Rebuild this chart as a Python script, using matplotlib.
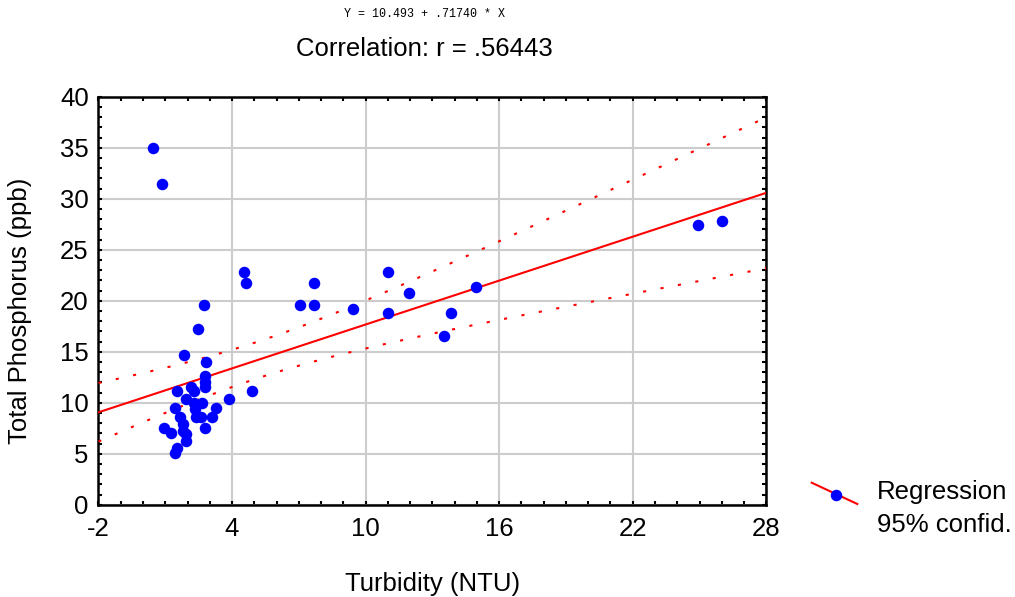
import matplotlib
matplotlib.use("Agg")
import matplotlib.pyplot as plt
from matplotlib.lines import Line2D
import numpy as np

# Turbidity (NTU) vs total phosphorus (ppb)
turbidity = [0.45, 0.85, 0.95, 1.25, 1.45, 1.55, 1.45, 1.55, 1.65, 1.8,
             1.8, 1.95, 1.95, 1.85, 1.95, 2.15, 2.3, 2.3, 2.35, 2.4,
             2.45, 2.65, 2.6, 2.75, 2.8, 2.8, 2.8, 2.8, 2.85, 3.1,
             3.3, 3.85, 4.55, 4.65, 4.9, 7.05, 7.7, 7.7, 9.45, 11.0,
             11.0, 11.95, 13.5, 13.85, 14.95, 24.95, 26.0]
phosphorus = [35.0, 31.4, 7.5, 7.05, 5.1, 5.6, 9.5, 11.1, 8.6, 7.9,
              7.2, 6.9, 6.2, 14.7, 10.4, 11.5, 11.1, 10.0, 9.4, 8.6,
              17.2, 10.0, 8.6, 19.6, 7.5, 12.6, 12.0, 11.5, 14.0, 8.6,
              9.5, 10.4, 22.8, 21.7, 11.1, 19.6, 21.7, 19.6, 19.2, 22.8,
              18.8, 20.8, 16.5, 18.8, 21.3, 27.4, 27.85]

# regression reported on the chart
intercept = 10.493
slope = 0.71740
r_text = ".56443"

xticks = [-2, 4, 10, 16, 22, 28]
yticks = [0, 5, 10, 15, 20, 25, 30, 35, 40]

FS = 18.5
plt.rcParams['font.family'] = ['Liberation Sans', 'DejaVu Sans']
plt.rcParams['axes.unicode_minus'] = False

x = np.array(turbidity)
y = np.array(phosphorus)
n = len(x)

# 95% confidence band for the mean
resid = y - (intercept + slope * x)
s = np.sqrt(np.sum(resid ** 2) / (n - 2))
sxx = np.sum((x - x.mean()) ** 2)
t_val = 2.014
xs = np.linspace(-2, 28, 200)
fit = intercept + slope * xs
half = t_val * s * np.sqrt(1.0 / n + (xs - x.mean()) ** 2 / sxx)

fig = plt.figure(figsize=(10.15, 5.97), dpi=100)
ax = fig.add_axes([0.097, 0.1546, 0.658, 0.6834])

ax.grid(True, which='major', color='#cccccc', linewidth=1.5, zorder=0)
ax.plot(xs, fit, color='red', linewidth=1.5, zorder=3)
ax.plot(xs, fit + half, color='red', linewidth=1.5,
        linestyle=(0, (1.5, 7)), zorder=3)
ax.plot(xs, fit - half, color='red', linewidth=1.5,
        linestyle=(0, (1.5, 7)), zorder=3)
ax.plot(x, y, 'o', color='#0000ff', markersize=8.3,
        markeredgewidth=0, zorder=4)

ax.set_xlim(-2, 28)
ax.set_ylim(0, 40)
ax.set_xticks(xticks)
ax.set_yticks(yticks)
ax.set_xticks(np.arange(-2, 29, 1), minor=True)
ax.set_yticks(np.arange(0, 41, 1), minor=True)
ax.tick_params(which='both', direction='in', top=True, right=True,
               width=1.5, length=3, labelsize=FS)
ax.tick_params(axis='x', pad=9)
ax.tick_params(axis='y', pad=7)
for sp in ax.spines.values():
    sp.set_linewidth(1.8)

ax.set_xlabel("Turbidity (NTU)", fontsize=FS, labelpad=22)
ax.set_ylabel("Total Phosphorus (ppb)", fontsize=FS)
ax.yaxis.set_label_coords(-0.099, 0.475)

fig.text(0.418, 0.977, "Y = %.3f + %s * X" % (intercept, ("%.5f" % slope)[1:]),
         family='Liberation Mono', fontsize=8.4, ha='center', va='center')
fig.text(0.418, 0.918, "Correlation: r = " + r_text,
         fontsize=FS, ha='center', va='center')

# legend drawn by hand outside the axes
W, H = 1015.0, 597.0
fig.add_artist(Line2D([811.7 / W, 857.3 / W], [1 - 482.7 / H, 1 - 504 / H],
                      color='red', linewidth=1.5))
fig.add_artist(Line2D([836 / W], [1 - 494.7 / H], marker='o', color='#0000ff',
                      markersize=8.3, markeredgewidth=0))
fig.text(876.7 / W, 1 - 491.7 / H, "Regression", fontsize=FS, va='center')
fig.text(876.7 / W, 1 - 525 / H, "95% confid.", fontsize=FS, va='center')

plt.savefig("out.png", dpi=100)
plt.close()
